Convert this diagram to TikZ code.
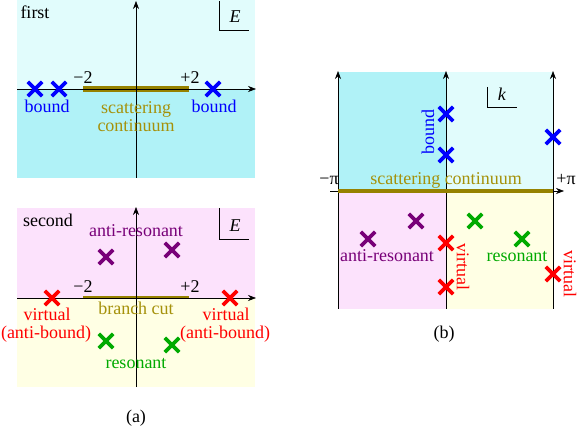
\documentclass[tikz,border=0pt]{standalone}
\usepackage{fontspec}
\setmainfont{Liberation Serif}
\usetikzlibrary{arrows.meta, shapes.misc}

\definecolor{cyanA}{RGB}{176,242,247}
\definecolor{cyanB}{RGB}{225,252,252}
\definecolor{pinkA}{RGB}{252,226,252}
\definecolor{yellowA}{RGB}{255,255,228}
\definecolor{oliveA}{RGB}{150,130,0}
\definecolor{oliveT}{RGB}{165,145,10}
\definecolor{greenA}{RGB}{0,170,0}
\definecolor{purpleA}{RGB}{120,0,120}

\begin{document}
\begin{tikzpicture}[
    x=1pt, y=-1pt,
    lbl/.style    = {font=\fontsize{18}{18}\selectfont, inner sep=0pt, anchor=base},
    pole/.style   = {cross out, draw=#1, line width=3.8pt, minimum size=10.5pt, inner sep=0pt},
    axis/.style   = {-{Stealth[length=8pt,width=6pt]}, black, line width=0.6pt},
    cut/.style    = {oliveA, line width=#1},
    corner/.style = {black, line width=0.6pt}
]
\useasboundingbox (0,0) rectangle (581,430);

% (a) first sheet
\fill[cyanB] (17,0) rectangle (255,89);
\fill[cyanA] (17,89) rectangle (255,178);
\draw[cut=6pt] (83,89) -- (189,89);
\draw[axis] (17,89) -- (256,89);
\draw[axis] (136,178) -- (136,1);
\draw[corner] (219,1) -- (219,30) -- (249,30);
\node[lbl] (E1) at (235,23) {\textit{E}};
\node[lbl] (first) at (35,19) {first};
\node[lbl] (m2a) at (83,84) {−2};
\node[lbl] (p2a) at (190,84) {+2};
\node[pole=blue] (b1) at (35,89) {};
\node[pole=blue] (b2) at (59,89) {};
\node[pole=blue] (b3) at (213,89) {};
\node[lbl, blue] (bndL) at (47,113) {bound};
\node[lbl, blue] (bndR) at (214,113) {bound};
\node[lbl, oliveT] (scat) at (136,114) {scattering};
\node[lbl, oliveT] (cont) at (136,132) {continuum};

% (a) second sheet
\fill[pinkA] (17,208) rectangle (255,298);
\fill[yellowA] (17,298) rectangle (255,387);
\draw[cut=3pt] (83,298) -- (189,298);
\draw[axis] (17,298) -- (256,298);
\draw[axis] (136,387) -- (136,207);
\draw[corner] (219,208) -- (219,239) -- (249,239);
\node[lbl] (E2) at (235,232) {\textit{E}};
\node[lbl] (second) at (48,227) {second};
\node[lbl] (m2b) at (83,293) {−2};
\node[lbl] (p2b) at (190,293) {+2};
\node[lbl, purpleA] (antiA) at (136,237) {anti-resonant};
\node[pole=purpleA] (ar1) at (106,257) {};
\node[pole=purpleA] (ar2) at (172,250) {};
\node[pole=red] (v1) at (52,298) {};
\node[pole=red] (v2) at (230,298) {};
\node[lbl, oliveT] (branch) at (136,315) {branch cut};
\node[lbl, red] (virtL) at (47,321) {virtual};
\node[lbl, red] (abL) at (46,338) {(anti-bound)};
\node[lbl, red] (virtR) at (226,321) {virtual};
\node[lbl, red] (abR) at (225,338) {(anti-bound)};
\node[pole=greenA] (r1) at (106,341) {};
\node[pole=greenA] (r2) at (172,345) {};
\node[lbl, greenA] (resA) at (136,368) {resonant};
\node[lbl] (capA) at (136,422) {(a)};

% (b) k plane
\fill[cyanA] (338,72) rectangle (446,191);
\fill[cyanB] (446,72) rectangle (553,191);
\fill[pinkA] (338,191) rectangle (446,309);
\fill[yellowA] (446,191) rectangle (553,309);
\draw[axis] (330,191) -- (564,191);
\foreach \xk in {338,446,553}
    \draw[axis] (\xk,309) -- (\xk,71);
\draw[cut=4pt] (338,191) -- (553,191);
\draw[corner] (487,87) -- (487,107) -- (517,107);
\node[lbl] (kk) at (502,101) {\textit{k}};
\node[lbl] (mpi) at (329,185) {−π};
\node[lbl] (ppi) at (566,185) {+π};
\node[lbl, oliveT] (scatB) at (446,185) {scattering continuum};
\node[pole=blue] (kb1) at (446,114) {};
\node[pole=blue] (kb2) at (446,155) {};
\node[pole=blue] (kb3) at (553,137) {};
\node[lbl, blue, rotate=90, anchor=center] (bndB) at (428,132) {bound};
\node[pole=purpleA] (kar1) at (416,221) {};
\node[pole=purpleA] (kar2) at (368,239) {};
\node[lbl, purpleA] (antiB) at (387,262) {anti-resonant};
\node[pole=red] (kv1) at (446,243) {};
\node[pole=red] (kv2) at (446,287) {};
\node[pole=red] (kv3) at (553,274) {};
\node[lbl, red, rotate=-90, anchor=center] (virtB1) at (463,267) {virtual};
\node[lbl, red, rotate=-90, anchor=center] (virtB2) at (570,274) {virtual};
\node[pole=greenA] (kr1) at (475,221) {};
\node[pole=greenA] (kr2) at (522,239) {};
\node[lbl, greenA] (resB) at (517,262) {resonant};
\node[lbl] (capB) at (444,338) {(b)};
\end{tikzpicture}
\end{document}
